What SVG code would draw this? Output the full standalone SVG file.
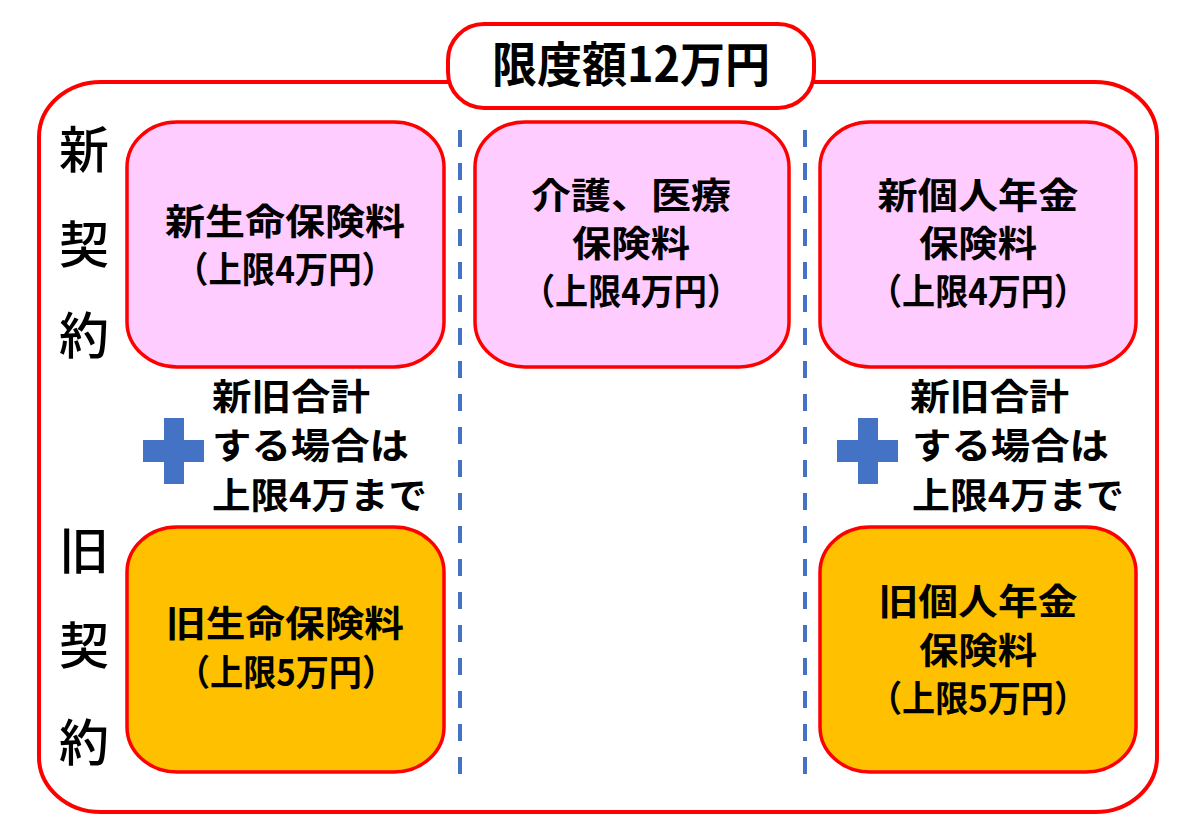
<svg xmlns="http://www.w3.org/2000/svg" width="1200" height="837" viewBox="0 0 1200 837">
<style>
text{font-family:"Noto Sans CJK JP","Noto Sans CJK SC",sans-serif;fill:#000}
.box{stroke:#FF0000;stroke-width:3.5}
.new{fill:#FFCCFF}
.old{fill:#FFC000}
.bt{font-size:36px;font-weight:bold;text-anchor:middle}
.side{font-size:50px;font-weight:500;text-anchor:middle}
.note{font-size:36px;font-weight:bold}
.plus{fill:#4472C4}
.dash{stroke:#4472C4;stroke-width:4;stroke-dasharray:17 16;fill:none}
</style>
<rect width="1200" height="837" fill="#fff"/>
<g id="frame">
<rect x="39" y="82" width="1118" height="730" rx="62" ry="55" fill="none" stroke="#FF0000" stroke-width="4"/>
</g>
<g id="title">
<rect x="448" y="24" width="366" height="84" rx="36" ry="36" fill="#fff" stroke="#FF0000" stroke-width="4"/>
<text x="631" y="82" font-size="48" font-weight="bold" text-anchor="middle" textLength="278" lengthAdjust="spacingAndGlyphs">限度額12万円</text>
</g>
<g id="connectors">
<line class="dash" x1="460" y1="130" x2="460" y2="787"/>
<line class="dash" x1="805" y1="130" x2="805" y2="787"/>
</g>
<g id="label-new">
<text class="side" x="84" y="168">新</text>
<text class="side" x="84" y="263">契</text>
<text class="side" x="84" y="354">約</text>
</g>
<g id="label-old">
<text class="side" x="84" y="569">旧</text>
<text class="side" x="84" y="664">契</text>
<text class="side" x="84" y="761">約</text>
</g>
<g id="new-life">
<rect class="box new" x="127" y="122" width="317" height="245" rx="50" ry="45"/>
<text class="bt" x="285" y="235" textLength="240" lengthAdjust="spacingAndGlyphs">新生命保険料</text>
<text class="bt" x="285" y="283" textLength="220" lengthAdjust="spacingAndGlyphs">（上限4万円）</text>
</g>
<g id="care-medical">
<rect class="box new" x="475" y="122" width="314" height="245" rx="50" ry="45"/>
<text class="bt" x="631" y="209" textLength="200" lengthAdjust="spacingAndGlyphs">介護、医療</text>
<text class="bt" x="631" y="257" textLength="118" lengthAdjust="spacingAndGlyphs">保険料</text>
<text class="bt" x="631" y="305" textLength="218" lengthAdjust="spacingAndGlyphs">（上限4万円）</text>
</g>
<g id="new-pension">
<rect class="box new" x="820" y="122" width="316" height="245" rx="50" ry="45"/>
<text class="bt" x="978" y="209" textLength="201" lengthAdjust="spacingAndGlyphs">新個人年金</text>
<text class="bt" x="978" y="257" textLength="118" lengthAdjust="spacingAndGlyphs">保険料</text>
<text class="bt" x="978" y="305" textLength="218" lengthAdjust="spacingAndGlyphs">（上限4万円）</text>
</g>
<g id="note-left">
<path class="plus" d="M164 418h20v22h20v22h-20v22h-20v-22h-21v-22h21z"/>
<text class="note" x="212" y="410" textLength="158" lengthAdjust="spacingAndGlyphs">新旧合計</text>
<text class="note" x="212" y="459" textLength="197" lengthAdjust="spacingAndGlyphs">する場合は</text>
<text class="note" x="212" y="509" textLength="215" lengthAdjust="spacingAndGlyphs">上限4万まで</text>
</g>
<g id="note-right">
<path class="plus" d="M858 418h20v22h20v22h-20v22h-20v-22h-21v-22h21z"/>
<text class="note" x="910" y="410" textLength="159" lengthAdjust="spacingAndGlyphs">新旧合計</text>
<text class="note" x="912" y="459" textLength="197" lengthAdjust="spacingAndGlyphs">する場合は</text>
<text class="note" x="912" y="509" textLength="212" lengthAdjust="spacingAndGlyphs">上限4万まで</text>
</g>
<g id="old-life">
<rect class="box old" x="127" y="527" width="317" height="245" rx="50" ry="45"/>
<text class="bt" x="285" y="637" textLength="238" lengthAdjust="spacingAndGlyphs">旧生命保険料</text>
<text class="bt" x="286" y="686" textLength="218" lengthAdjust="spacingAndGlyphs">（上限5万円）</text>
</g>
<g id="old-pension">
<rect class="box old" x="820" y="527" width="316" height="245" rx="50" ry="45"/>
<text class="bt" x="978" y="615" textLength="199" lengthAdjust="spacingAndGlyphs">旧個人年金</text>
<text class="bt" x="978" y="664" textLength="118" lengthAdjust="spacingAndGlyphs">保険料</text>
<text class="bt" x="978" y="712" textLength="218" lengthAdjust="spacingAndGlyphs">（上限5万円）</text>
</g>
</svg>
